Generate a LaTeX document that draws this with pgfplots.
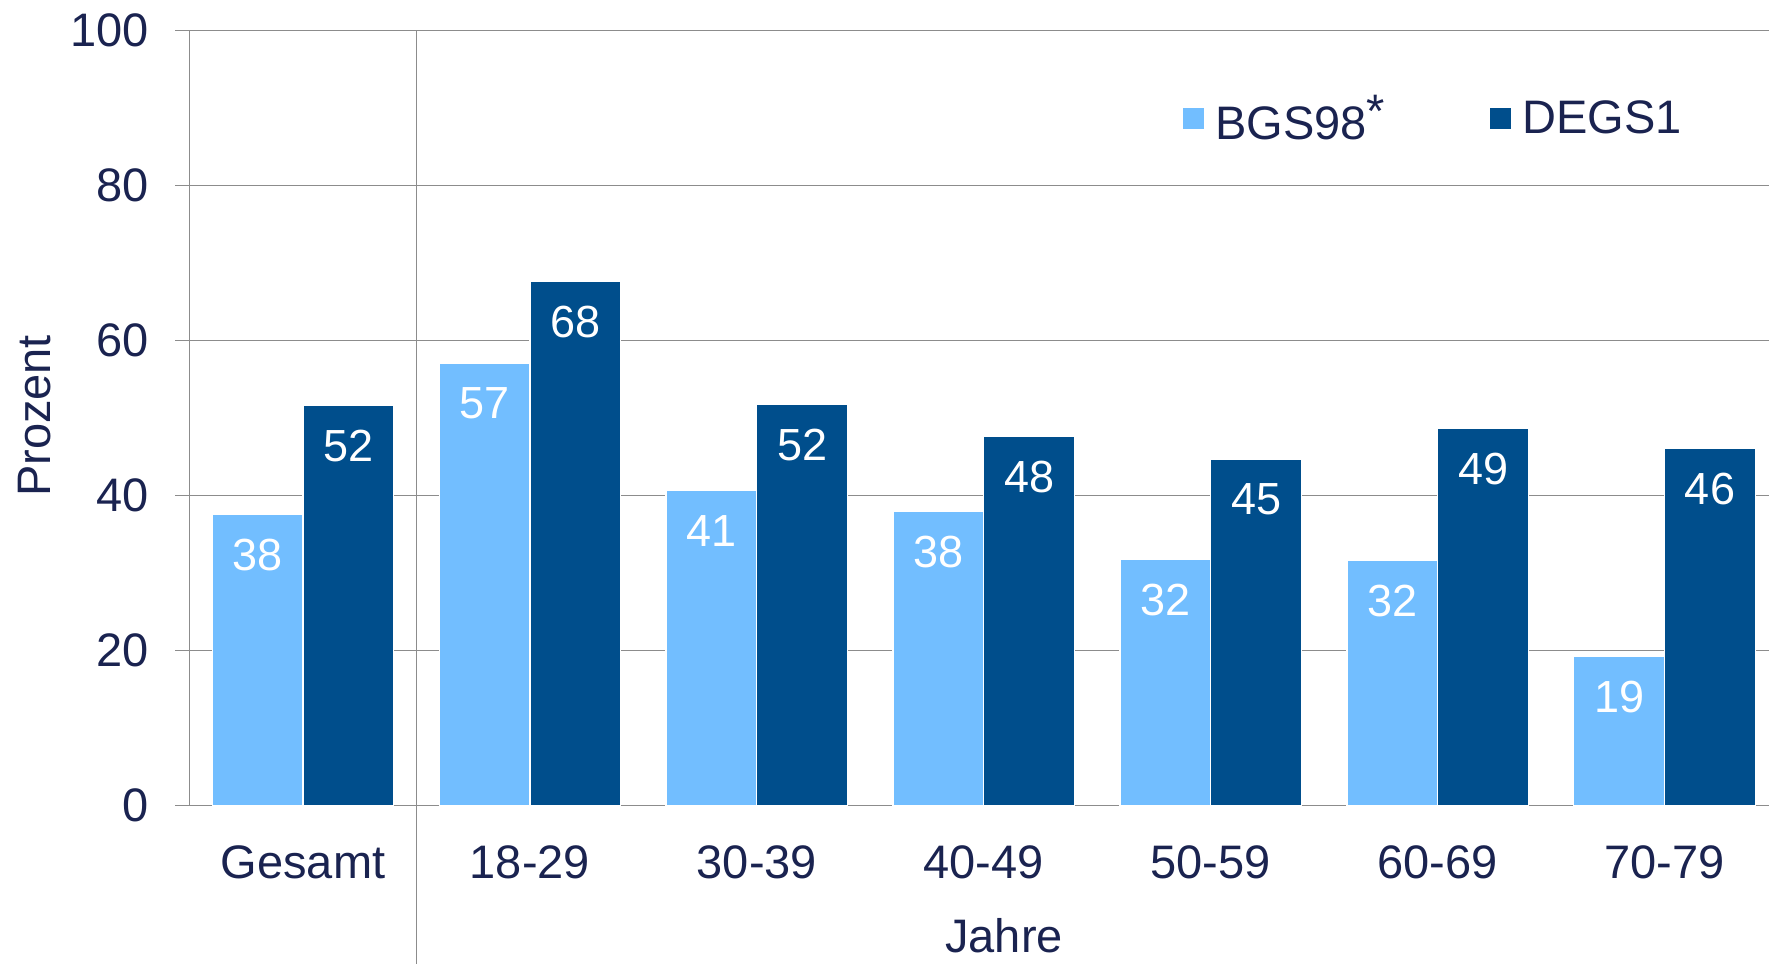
\documentclass[border=0pt]{standalone}
\usepackage{pgfplots}
\pgfplotsset{compat=1.18}
\usepackage{fontspec}
\setmainfont{Liberation Sans}

\definecolor{navytext}{RGB}{26,35,80}
\definecolor{bgslight}{RGB}{114,190,255}
\definecolor{degsdark}{RGB}{0,78,140}
\definecolor{gridgray}{RGB}{140,140,140}

\newcommand{\labelfont}{\fontsize{23.5}{28}\selectfont}
\newcommand{\valuefont}{\fontsize{22.5}{27}\selectfont}

\begin{document}
\begin{tikzpicture}
\useasboundingbox (0,0) rectangle (884.5pt,482pt);
\begin{axis}[
  at={(94.75pt,79.25pt)}, anchor=south west,
  scale only axis,
  width=789.75pt, height=387.5pt,
  xmin=-0.5, xmax=6.46,
  ymin=0, ymax=100,
  clip=false,
  axis x line*=bottom, axis y line*=left,
  axis line style={draw=gridgray, line width=0.75pt},
  ytick={0,20,40,60,80,100},
  xtick={0,1,2,3,4,5,6},
  xticklabels={Gesamt,18-29,30-39,40-49,50-59,60-69,70-79},
  major tick length=7pt,
  tick align=outside,
  ytick style={draw=gridgray, line width=0.75pt},
  xtick style={draw=none},
  ymajorgrids,
  grid style={draw=gridgray, line width=0.75pt},
  /pgf/number format/assume math mode=true,
  tick label style={font=\labelfont, text=navytext},
  yticklabel style={anchor=east, xshift=-10pt},
  xticklabel style={anchor=base, yshift=-29.3pt},
  xlabel={Jahre},
  ylabel={Prozent},
  label style={font=\labelfont, text=navytext},
  xlabel style={at={(axis description cs:0.5157,-0.1903)}, anchor=base},
  ylabel style={at={(axis description cs:-0.0877,0.5026)}, anchor=base, rotate=0},
  ybar=0pt,
  bar width=0.4,
  nodes near coords={\pgfmathprintnumber[fixed,precision=0]{\pgfplotspointmeta}},
  every node near coord/.append style={font=\valuefont, text=white, anchor=center, yshift=-20.3pt},
  legend columns=2,
  legend style={draw=none, fill=none, inner sep=0pt, outer sep=0pt,
    at={(0.6284,0.8865)}, anchor=west,
    font=\labelfont, text=navytext,
    nodes={inner sep=0pt},
    /tikz/every odd column/.style={column sep=5pt},
    /tikz/column 2/.style={column sep=52pt}},
  legend image code/.code={\fill[#1] (0pt,-5.5pt) rectangle (11pt,5.5pt);},
]
% separator between the total and the age groups
\draw[gridgray, line width=0.75pt] (axis cs:0.5,100) -- ([yshift=-80pt]axis cs:0.5,0);

\addplot[fill=bgslight, draw=white, line width=0.6pt] coordinates {
  (0,37.6) (1,57.1) (2,40.6) (3,38.0) (4,31.7) (5,31.6) (6,19.2)
};
\addplot[fill=degsdark, draw=white, line width=0.6pt] coordinates {
  (0,51.6) (1,67.6) (2,51.7) (3,47.6) (4,44.7) (5,48.6) (6,46.1)
};
\legend{BGS98\raisebox{6pt}{*}, DEGS1}
\end{axis}
\end{tikzpicture}
\end{document}
